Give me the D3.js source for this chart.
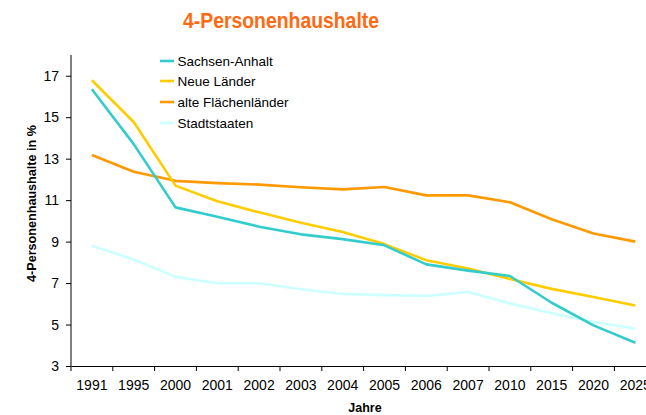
<!DOCTYPE html>
<html>
<head>
    <script src="https://d3js.org/d3.v7.min.js"></script>
    <style>
        body {margin: 0; background: #ffffff; font-family: "Liberation Sans", Arial, sans-serif;}
        .axis text {font-size: 14px; fill: #000;}
        .axis path, .axis line {stroke: #000;}
    </style>
</head>
<body>
<script>
    // categories along the x axis (last one is cut off in the original)
    const years = ["1991", "1995", "2000", "2001", "2002", "2003", "2004", "2005", "2006", "2007", "2010", "2015", "2020", "2025"];

    // series values in %
    const sachsenAnhalt = [16.35, 13.7, 10.65, 10.2, 9.72, 9.35, 9.12, 8.82, 7.9, 7.6, 7.34, 6.05, 4.96, 4.12];
    const neueLaender = [16.78, 14.77, 11.7, 10.95, 10.41, 9.91, 9.46, 8.88, 8.1, 7.7, 7.2, 6.72, 6.33, 5.92];
    const alteFlaechenlaender = [13.18, 12.37, 11.93, 11.82, 11.75, 11.62, 11.52, 11.63, 11.23, 11.23, 10.9, 10.08, 9.39, 9.0];
    const stadtstaaten = [8.8, 8.14, 7.3, 6.99, 6.99, 6.7, 6.47, 6.42, 6.38, 6.57, 6.02, 5.54, 5.13, 4.8];

    const yTicks = [3, 5, 7, 9, 11, 13, 15, 17];

    const seriesNames = ["Sachsen-Anhalt", "Neue Länder", "alte Flächenländer", "Stadtstaaten"];
    const seriesValues = [sachsenAnhalt, neueLaender, alteFlaechenlaender, stadtstaaten];
    const seriesColors = ["#33cccc", "#ffcc00", "#ff9900", "#ccffff"];

    const width = 646;
    const height = 415;

    const svg = d3.select("body")
        .append("svg")
        .attr("width", width)
        .attr("height", height);

    // plot area (the right side runs past the window like in the picture)
    const plotLeft = 71, plotTop = 55, plotBottom = 366;
    const bandWidth = 41.8;

    const x = d3.scaleBand()
        .domain(years)
        .range([plotLeft, plotLeft + years.length * bandWidth]);

    const y = d3.scaleLinear()
        .domain([3, 18])
        .range([plotBottom, plotTop]);

    // title (a bit condensed in the original)
    svg.append("text")
        .attr("x", 183)
        .attr("y", 28)
        .attr("textLength", 196)
        .attr("lengthAdjust", "spacingAndGlyphs")
        .style("font-size", "22px")
        .style("font-weight", "bold")
        .style("fill", "#ff6a10")
        .text("4-Personenhaushalte");

    // y axis
    const yAxis = svg.append("g")
        .attr("class", "axis")
        .attr("transform", "translate(" + plotLeft + ",0)")
        .call(d3.axisLeft(y).tickValues(yTicks).tickSize(5).tickPadding(7).tickSizeOuter(0));
    yAxis.select(".domain").attr("d", "M0," + plotBottom + "V" + plotTop);

    // x axis with ticks between the categories
    const xAxis = svg.append("g")
        .attr("class", "axis")
        .attr("transform", "translate(0," + plotBottom + ")")
        .call(d3.axisBottom(x).tickSize(0).tickPadding(14));
    xAxis.selectAll(".tick line").remove();
    xAxis.selectAll(".sep")
        .data(years)
        .enter()
        .append("line")
        .attr("x1", d => x(d))
        .attr("x2", d => x(d))
        .attr("y1", 0)
        .attr("y2", 5)
        .attr("stroke", "#000");

    // axis titles
    svg.append("text")
        .attr("transform", "translate(36,203.5) rotate(-90)")
        .attr("text-anchor", "middle")
        .attr("textLength", 157)
        .attr("lengthAdjust", "spacingAndGlyphs")
        .style("font-size", "12.5px")
        .style("font-weight", "bold")
        .text("4-Personenhaushalte in %");

    svg.append("text")
        .attr("x", 365)
        .attr("y", 412)
        .attr("text-anchor", "middle")
        .style("font-size", "12.5px")
        .style("font-weight", "bold")
        .text("Jahre");

    // lines
    const line = d3.line()
        .x((d, i) => x(years[i]) + x.bandwidth() / 2)
        .y(d => y(d));

    // draw the light series first so the others sit on top
    const order = [3, 2, 1, 0];
    order.forEach(function(k) {
        svg.append("path")
            .datum(seriesValues[k])
            .attr("d", line)
            .attr("fill", "none")
            .attr("stroke", seriesColors[k])
            .attr("stroke-width", 2.6)
            .attr("stroke-linejoin", "round");
    });

    // legend
    const legendY = [61, 81, 102, 123];
    const legend = svg.selectAll(".legend")
        .data(seriesNames)
        .enter()
        .append("g")
        .attr("transform", (d, i) => "translate(160," + legendY[i] + ")");
    legend.append("line")
        .attr("x1", 0)
        .attr("x2", 14)
        .attr("stroke", (d, i) => seriesColors[i])
        .attr("stroke-width", 2.6);
    legend.append("text")
        .attr("x", 17.5)
        .attr("y", 5)
        .style("font-size", "13.5px")
        .text(d => d);
</script>
</body>
</html>
